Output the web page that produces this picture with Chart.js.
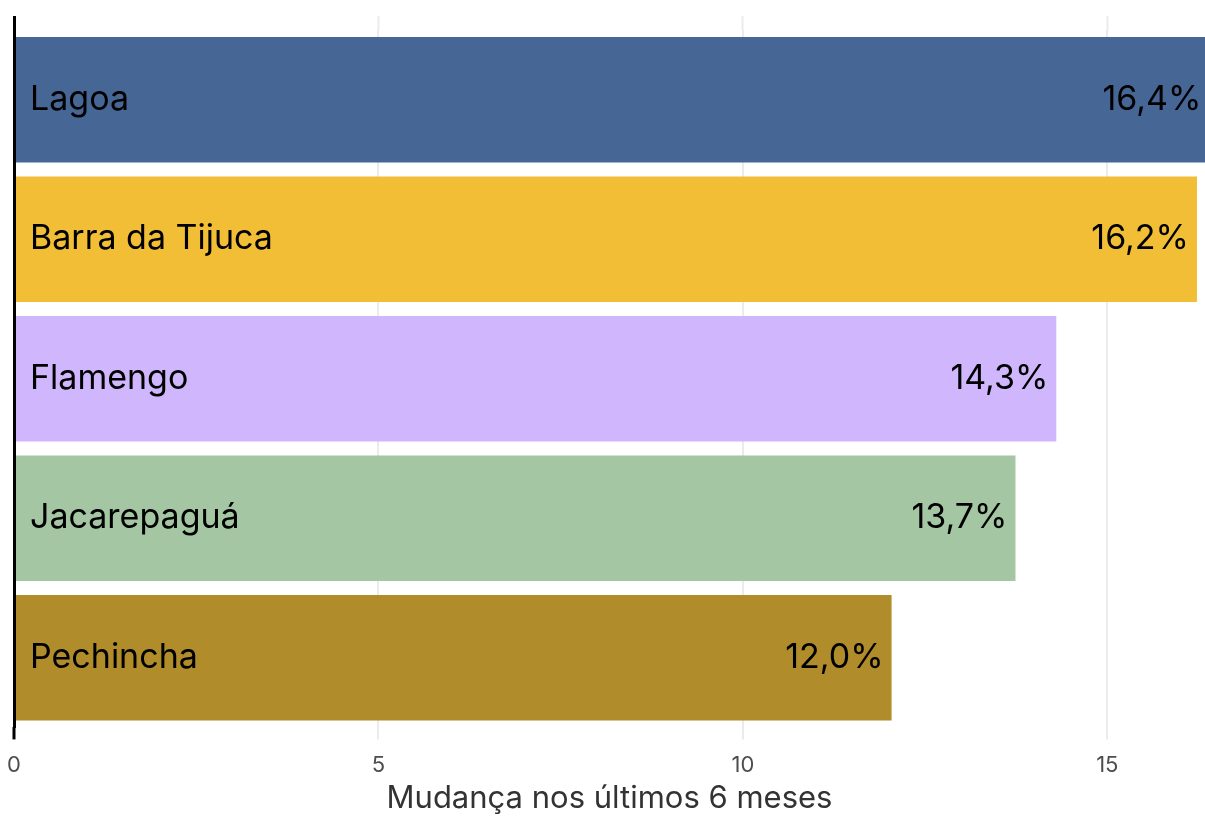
<!DOCTYPE html>
<html>
<head>
<meta charset="utf-8">
<script src="https://cdn.jsdelivr.net/npm/chart.js@4.4.1/dist/chart.umd.min.js"></script>
<style>
  html, body { margin: 0; background: #fff; }
</style>
</head>
<body>
<canvas id="grafico" width="1205" height="817"></canvas>
<script>
const bairros = ["Lagoa", "Barra da Tijuca", "Flamengo", "Jacarepaguá", "Pechincha"];
const mudanca = [16.4, 16.23, 14.3, 13.74, 12.04];
const cores = ["#466795", "#F1BE36", "#CFB6FD", "#A4C6A3", "#B08C2A"];
const eixoX = [0, 5, 10, 15];

const fonte = "Inter, 'Noto Sans', sans-serif";
const xMax = 16.34;

// rótulos de valor no fim de cada barra
const rotulos = {
  id: "rotulos",
  afterDatasetsDraw(chart) {
    const ctx = chart.ctx;
    const meta = chart.getDatasetMeta(0);
    ctx.save();
    ctx.font = "34px " + fonte;
    ctx.fillStyle = "#000";
    ctx.textAlign = "right";
    ctx.textBaseline = "middle";
    meta.data.forEach((bar, i) => {
      const txt = mudanca[i].toFixed(1).replace(".", ",") + "%";
      ctx.fillText(txt, bar.x - 8, bar.y);
    });
    ctx.restore();
  }
};

const corGrade = (c) => c.tick && c.tick.value === 0 ? "#000" : "#EBEBEB";
const larguraGrade = (c) => c.tick && c.tick.value === 0 ? 3 : 2;
const semSobra = (s) => { s.paddingLeft = 0; s.paddingRight = 0; };

new Chart(document.getElementById("grafico"), {
  type: "bar",
  data: {
    labels: bairros,
    datasets: [{
      data: mudanca,
      backgroundColor: cores,
      borderWidth: 0,
      barPercentage: 0.9,
      categoryPercentage: 1.0
    }]
  },
  options: {
    indexAxis: "y",
    responsive: false,
    devicePixelRatio: 1,
    animation: false,
    layout: { padding: { top: 16, left: 14, right: 0, bottom: 0 } },
    plugins: {
      legend: { display: false },
      tooltip: { enabled: false }
    },
    scales: {
      x: {
        type: "linear",
        min: 0,
        max: xMax,
        afterBuildTicks: (s) => { s.ticks = eixoX.map(v => ({ value: v })); },
        afterFit: semSobra,
        grid: {
          color: (c) => c.tick && c.tick.value === 0 ? "rgba(0,0,0,0)" : "#EBEBEB",
          lineWidth: 2,
          drawTicks: true,
          tickLength: 12,
          tickColor: corGrade,
          tickWidth: larguraGrade
        },
        border: { display: false },
        ticks: {
          font: { family: fonte, size: 22 },
          color: "#4D4D4D",
          padding: 13,
          maxRotation: 0,
          minRotation: 0
        },
        title: {
          display: true,
          text: "Mudança nos últimos 6 meses",
          font: { family: fonte, size: 31 },
          color: "#333",
          padding: { top: -12, bottom: 0 }
        }
      },
      xTopo: {
        type: "linear",
        position: "top",
        axis: "x",
        min: 0,
        max: xMax,
        afterBuildTicks: (s) => { s.ticks = eixoX.map(v => ({ value: v })); },
        afterFit: semSobra,
        grid: {
          drawOnChartArea: false,
          drawTicks: true,
          tickLength: 14,
          tickColor: corGrade,
          tickWidth: larguraGrade
        },
        border: { display: false },
        ticks: { display: false }
      },
      y: {
        afterFit: (s) => { s.width = 0; s.paddingTop = 0; s.paddingBottom = 0; },
        grid: { display: false, drawTicks: false },
        border: { display: true, color: "#000", width: 3, z: 1 },
        ticks: {
          z: 1,
          mirror: true,
          padding: 16,
          font: { family: fonte, size: 34 },
          color: "#000"
        }
      }
    }
  },
  plugins: [rotulos]
});
</script>
</body>
</html>
